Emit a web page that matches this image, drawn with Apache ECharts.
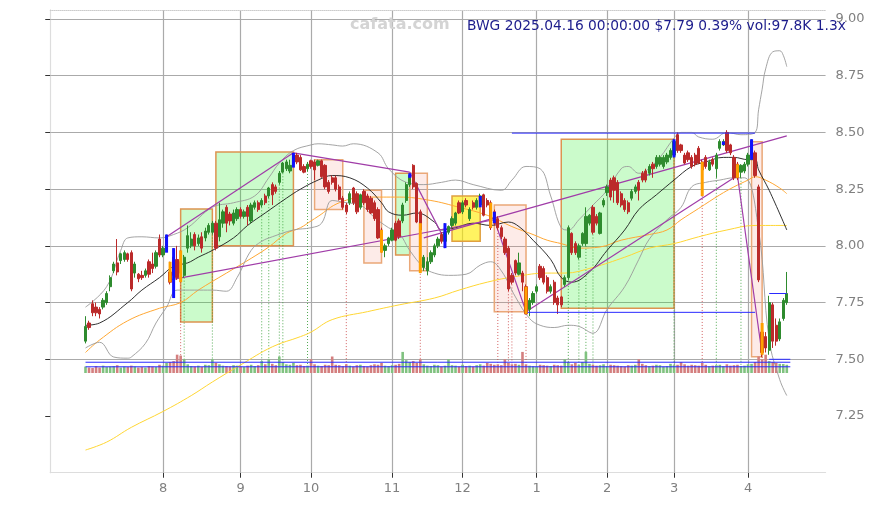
<!DOCTYPE html>
<html><head><meta charset="utf-8">
<script src="https://cdn.jsdelivr.net/npm/echarts@6/dist/echarts.min.js"></script>
<style>html,body{margin:0;padding:0;background:#fff}#c{width:875px;height:505px}</style>
</head><body><div id="c"></div>
<script>
// ---------- data ----------
const startDate = '2024-07-01', endDate = '2025-04-16';
const holidays = ['2024-07-04','2024-09-02','2024-11-28','2024-12-25','2025-01-01','2025-01-09','2025-01-20','2025-02-17'];
const titleText = 'BWG 2025.04.16 00:00:00 $7.79 0.39% vol:97.8K 1.3x';
const watermark = 'cafata.com';
const yTickLabels = [7.25, 7.5, 7.75, 8.0, 8.25, 8.5, 8.75, 9.0];

// [open, close, low, high]
const ohlc = [
[7.58,7.645,7.57,7.69],[7.66,7.64,7.63,7.67],[7.745,7.705,7.69,7.76],[7.73,7.705,7.69,7.75],[7.72,7.70,7.68,7.73],
[7.73,7.76,7.72,7.77],[7.75,7.79,7.74,7.80],[7.82,7.86,7.80,7.87],[7.89,7.92,7.88,7.93],[7.925,7.885,7.87,8.03],
[7.935,7.965,7.92,7.97],[7.94,7.97,7.93,7.98],[7.965,7.94,7.93,7.97],[7.97,7.81,7.80,7.98],[7.88,7.92,7.86,7.93],
[7.875,7.855,7.84,7.88],[7.87,7.86,7.85,7.89],[7.87,7.89,7.86,7.90],[7.93,7.875,7.86,7.94],[7.92,7.90,7.88,7.97],
[7.91,7.97,7.90,7.98],[8.03,7.96,7.95,8.05],[7.96,7.99,7.95,8.00],[7.99,8.04,7.98,8.05],[7.885,7.84,7.83,7.93],
[7.95,7.87,7.77,7.99],[7.94,7.86,7.85,8.00],[7.93,7.88,7.84,7.98],[7.87,7.95,7.86,7.96],[7.99,8.045,7.97,8.09],
[8.00,8.03,7.99,8.06],[8.05,8.00,7.98,8.06],[8.01,8.035,8.00,8.05],[8.04,7.99,7.97,8.06],[8.035,8.065,8.02,8.08],
[8.06,8.09,8.05,8.10],[8.06,8.10,8.05,8.11],[8.10,7.99,7.98,8.11],[8.04,8.115,8.02,8.19],[8.10,8.15,8.08,8.16],
[8.17,8.10,8.06,8.18],[8.14,8.11,8.09,8.15],[8.10,8.145,8.09,8.16],[8.12,8.16,8.11,8.17],[8.16,8.13,8.12,8.17],
[8.13,8.15,8.12,8.16],[8.17,8.13,8.09,8.18],[8.11,8.18,8.10,8.19],[8.17,8.19,8.16,8.20],[8.19,8.16,8.15,8.20],
[8.18,8.20,8.17,8.21],[8.22,8.19,8.18,8.23],[8.22,8.255,8.21,8.26],[8.27,8.225,8.18,8.28],[8.26,8.24,8.23,8.27],
[8.28,8.32,8.27,8.33],[8.325,8.365,8.32,8.37],[8.34,8.37,8.33,8.38],[8.33,8.355,8.32,8.38],[8.36,8.40,8.355,8.41],
[8.40,8.37,8.36,8.41],[8.39,8.335,8.33,8.40],[8.35,8.325,8.32,8.36],[8.34,8.36,8.33,8.37],[8.375,8.35,8.34,8.38],
[8.37,8.335,8.29,8.38],[8.355,8.375,8.35,8.38],[8.375,8.305,8.30,8.38],[8.355,8.26,8.25,8.36],[8.28,8.24,8.23,8.29],
[8.30,8.28,8.27,8.31],[8.30,8.25,8.24,8.31],[8.26,8.205,8.20,8.27],[8.21,8.17,8.16,8.22],[8.18,8.15,8.14,8.19],
[8.19,8.23,8.18,8.24],[8.255,8.19,8.18,8.26],[8.23,8.15,8.14,8.24],[8.17,8.225,8.16,8.23],[8.24,8.19,8.18,8.25],
[8.22,8.16,8.15,8.23],[8.21,8.145,8.14,8.22],[8.19,8.12,8.11,8.20],[8.16,8.035,8.03,8.17],[8.07,7.99,7.97,8.08],
[7.98,8.00,7.95,8.01],[8.01,8.035,8.00,8.04],[8.025,8.07,8.02,8.08],[8.10,8.025,8.02,8.11],[8.11,8.04,8.03,8.12],
[8.11,8.18,8.10,8.19],[8.20,8.27,8.19,8.28],[8.27,8.31,8.26,8.32],[8.355,8.26,8.25,8.36],[8.275,8.105,8.10,8.28],
[8.15,8.07,7.89,8.16],[7.905,7.95,7.89,7.96],[7.89,7.93,7.87,7.95],[7.93,7.97,7.92,7.98],[7.96,8.00,7.95,8.01],
[8.00,8.03,7.99,8.04],[8.05,8.02,8.01,8.06],[8.02,8.06,7.99,8.10],[8.06,8.085,8.05,8.09],[8.09,8.12,8.08,8.13],
[8.10,8.145,8.09,8.15],[8.19,8.145,8.14,8.20],[8.15,8.19,8.14,8.20],[8.20,8.18,8.17,8.21],[8.12,8.16,8.11,8.17],
[8.19,8.17,8.16,8.20],[8.17,8.20,8.16,8.21],[8.18,8.22,8.17,8.23],[8.225,8.135,8.13,8.23],[8.20,8.18,8.17,8.21],
[8.19,8.08,8.07,8.20],[8.15,8.10,8.09,8.16],[8.12,8.08,8.07,8.13],[8.08,8.04,8.03,8.09],[8.03,7.97,7.96,8.04],
[7.99,7.81,7.80,8.00],[7.87,7.84,7.83,7.88],[7.935,7.88,7.87,7.94],[7.875,7.925,7.87,7.97],[7.88,7.84,7.80,7.89],
[7.82,7.70,7.70,7.83],[7.72,7.76,7.69,7.77],[7.75,7.79,7.74,7.80],[7.80,7.82,7.79,7.83],[7.91,7.86,7.85,7.92],
[7.90,7.84,7.83,7.91],[7.86,7.80,7.79,7.87],[7.80,7.82,7.79,7.83],[7.84,7.75,7.74,7.85],[7.77,7.74,7.70,7.78],
[7.775,7.74,7.73,7.78],[7.83,7.86,7.82,7.87],[7.86,8.08,7.85,8.09],[8.055,7.97,7.96,8.06],[8.01,7.97,7.96,8.02],
[7.95,8.00,7.94,8.01],[8.01,8.055,8.00,8.06],[8.01,8.13,8.00,8.17],[8.10,8.135,8.09,8.14],[8.17,8.06,8.05,8.18],
[8.13,8.10,8.09,8.14],[8.055,8.145,8.05,8.15],[8.18,8.20,8.17,8.21],[8.235,8.26,8.22,8.27],[8.29,8.215,8.20,8.30],
[8.30,8.245,8.19,8.31],[8.28,8.19,8.18,8.29],[8.23,8.18,8.17,8.24],[8.20,8.16,8.15,8.21],[8.19,8.15,8.14,8.20],
[8.21,8.24,8.20,8.25],[8.24,8.26,8.23,8.27],[8.28,8.245,8.20,8.29],[8.32,8.29,8.28,8.33],[8.33,8.29,8.28,8.34],
[8.32,8.35,8.31,8.36],[8.36,8.34,8.30,8.37],[8.35,8.39,8.34,8.40],[8.36,8.39,8.35,8.40],[8.35,8.39,8.34,8.40],
[8.37,8.40,8.36,8.41],[8.39,8.42,8.38,8.43],[8.40,8.46,8.39,8.47],[8.49,8.42,8.41,8.50],[8.445,8.42,8.41,8.45],
[8.40,8.365,8.36,8.41],[8.41,8.38,8.37,8.42],[8.39,8.35,8.34,8.40],[8.40,8.36,8.35,8.41],[8.43,8.365,8.36,8.44],
[8.37,8.335,8.22,8.38],[8.39,8.35,8.34,8.40],[8.335,8.37,8.33,8.38],[8.38,8.36,8.35,8.39],[8.34,8.40,8.30,8.41],
[8.43,8.46,8.42,8.47],[8.445,8.46,8.44,8.47],[8.50,8.42,8.41,8.51],[8.445,8.41,8.40,8.45],[8.39,8.30,8.29,8.40],
[8.36,8.30,8.29,8.37],[8.325,8.355,8.30,8.36],[8.33,8.36,8.32,8.37],[8.36,8.40,8.35,8.41],[8.40,8.46,8.38,8.47],
[8.41,8.31,8.30,8.42],[8.26,7.85,7.84,8.27],[7.62,7.53,7.51,7.66],[7.60,7.55,7.53,7.62],[7.54,7.75,7.52,7.78],
[7.74,7.58,7.55,7.75],[7.65,7.58,7.56,7.68],[7.59,7.665,7.58,7.68],[7.68,7.76,7.67,7.77],[7.75,7.79,7.74,7.885]
];

// volume in thousands
const volumeK = [
70,60,55,75,60,80,65,70,75,85, 60,70,65,80,70,60,65,60,75,70,
65,90,80,110,120,130,200,190,150,95, 75,70,80,65,90,85,150,110,95,80,
75,70,85,80,70,65,80,90,75,85, 130,95,150,100,85,180,120,95,90,110,
85,90,75,80,150,95,80,75,90,85, 180,90,85,75,95,80,70,85,90,75,
70,85,95,90,110,80,75,85,90,100, 230,140,120,130,110,150,95,80,75,90,
85,70,80,150,85,80,70,90,75,80, 70,85,95,80,110,100,90,95,85,150,
110,95,100,90,230,95,80,75,70,90, 85,80,75,90,85,80,150,120,95,110,
90,120,230,100,90,80,85,95,75,90, 85,80,75,70,85,80,90,150,100,85,
75,80,90,85,70,75,100,85,90,120, 95,80,90,85,80,110,90,75,80,85,
90,75,95,80,85,90,75,80,95,100, 120,180,150,200,130,120,110,100,97.8,90
];

const ma20 = [[0,7.65],[4,7.66],[12,7.75],[16,7.805],[21,7.86],[25,7.91],[29,7.925],[32,7.95],[36,7.98],[42,8.035],[46,8.09],[51,8.145],[57,8.21],[61,8.25],[66,8.29],[70,8.31],[75,8.30],[80,8.255],[84,8.19],[86,8.15],[90,8.135],[94,8.145],[99,8.105],[101,8.07],[105,8.08],[110,8.10],[115,8.09],[120,8.105],[123,8.085],[127,8.025],[132,7.94],[135,7.86],[138,7.84],[143,7.885],[148,7.98],[153,8.07],[157,8.16],[162,8.225],[167,8.29],[172,8.35],[176,8.37],[181,8.39],[184,8.39],[188,8.38],[190,8.38],[191,8.335],[194,8.245],[199,8.07]];
const bbUpper = [[0,7.73],[6,7.82],[10,7.98],[12,8.035],[16,8.04],[21,8.035],[25,8.05],[29,8.08],[36,8.17],[42,8.19],[48,8.22],[52,8.30],[55,8.365],[59,8.42],[64,8.445],[66,8.45],[70,8.445],[73,8.44],[76,8.45],[83,8.41],[86,8.34],[91,8.28],[96,8.27],[101,8.28],[105,8.29],[110,8.27],[118,8.245],[121,8.29],[125,8.35],[129,8.34],[132,8.22],[135,8.08],[137,8.07],[140,8.115],[144,8.18],[148,8.245],[152,8.34],[154,8.35],[157,8.32],[159,8.33],[163,8.39],[167,8.475],[169,8.50],[172,8.50],[174,8.48],[178,8.47],[182,8.50],[186,8.49],[190,8.50],[191,8.60],[192,8.69],[193,8.78],[195,8.855],[197,8.86],[198,8.84],[199,8.79]];
const bbLower = [[0,7.55],[4,7.575],[8,7.51],[12,7.505],[13,7.51],[17,7.57],[20,7.66],[23,7.73],[26,7.805],[31,7.805],[36,7.805],[40,7.80],[43,7.86],[47,7.98],[50,8.02],[53,8.04],[59,8.07],[64,8.08],[67,8.10],[70,8.20],[74,8.19],[78,8.18],[82,8.125],[86,8.08],[89,8.055],[92,7.98],[96,7.905],[99,7.88],[103,7.87],[108,7.875],[112,7.915],[115,7.93],[118,7.89],[122,7.775],[126,7.68],[129,7.65],[133,7.64],[137,7.65],[140,7.645],[144,7.615],[148,7.72],[153,7.82],[157,7.94],[160,8.03],[165,8.115],[169,8.17],[172,8.26],[176,8.28],[180,8.29],[184,8.30],[187,8.30],[191,8.07],[194,7.585],[197,7.41],[199,7.34]];
const ma50 = [[0,7.53],[4,7.585],[12,7.67],[21,7.725],[27,7.75],[32,7.805],[40,7.88],[47,7.945],[52,7.995],[57,8.055],[61,8.08],[64,8.11],[66,8.13],[72,8.19],[80,8.215],[89,8.215],[98,8.20],[106,8.17],[114,8.135],[121,8.085],[127,8.05],[131,8.025],[135,8.01],[140,7.99],[146,7.995],[152,8.025],[160,8.05],[165,8.07],[169,8.115],[174,8.165],[180,8.225],[184,8.26],[188,8.29],[190,8.305],[193,8.29],[197,8.255],[199,8.23]];
const ma200 = [[0,7.10],[6,7.135],[13,7.20],[22,7.27],[30,7.34],[36,7.40],[44,7.475],[53,7.555],[61,7.60],[64,7.62],[70,7.675],[80,7.71],[89,7.74],[99,7.77],[106,7.805],[114,7.84],[122,7.865],[131,7.88],[136,7.88],[144,7.905],[153,7.95],[160,7.99],[167,8.01],[174,8.04],[182,8.07],[190,8.09],[199,8.09]];

// [fromIndex, toIndex, low, high, kind]
const boxes = [[27,36,7.664,8.162,'g'],[37,59,8.0,8.414,'g'],[65,73,8.16,8.38,'r'],[79,84,7.925,8.245,'r'],[88,92,7.96,8.32,'g'],[92,97,7.89,8.32,'r'],[104,112,8.02,8.22,'y'],[116,125,7.71,8.18,'r'],[135,167,7.725,8.47,'g'],[189,192,7.511,8.459,'r']];
// [index, low, high, kind]
const pivotMarks = [[23,7.97,8.05,'b'],[25,7.77,7.99,'b'],[59,8.345,8.41,'b'],[92,8.30,8.32,'b'],[102,7.99,8.10,'b'],[112,8.17,8.22,'b'],[116,8.10,8.15,'b'],[167,8.39,8.47,'b'],[181,8.445,8.46,'b'],[189,8.38,8.47,'b'],
  [24,7.84,7.93,'o'],[27,7.84,7.98,'o'],[84,7.97,8.07,'o'],[95,7.88,8.10,'o'],[115,8.08,8.19,'o'],[125,7.70,7.82,'o'],[175,8.22,8.37,'o'],[185,8.30,8.36,'o'],[192,7.52,7.66,'o']];
const dottedMarks = [[27,'r'],[74,'r'],[95,'r'],[117,'r'],[120,'r'],[121,'r'],[125,'r'],[175,'r'],[192,'r'],
  [28,'g'],[36,'g'],[50,'g'],[52,'g'],[55,'g'],[56,'g'],[63,'g'],[137,'g'],[140,'g'],[142,'g'],[144,'g'],[167,'g'],[179,'g'],[186,'g']];
const trendLines = [[[23,8.04],[59,8.41]],[[59,8.41],[92,8.325]],[[92,8.325],[102,8.025]],[[24,7.85],[116,8.115]],[[116,8.115],[125,7.71]],[[125,7.71],[185,8.31]],[[185,8.31],[192,7.52]],[[96,8.035],[199,8.485]]];
const levelLines = [[[121,8.497],[190,8.497]],[[125,7.707],[190,7.707]],[[0,7.487],[200,7.487]],[[0,7.467],[200,7.467]],[[194,7.79],[199,7.79]],[[194,7.50],[200,7.50]]];

// ---------- build categories ----------
const PAD = 10, POST = 11;
const dates = [];
(function(){
  let d = new Date(startDate + 'T00:00:00Z');
  const end = new Date(endDate + 'T00:00:00Z');
  while (d <= end) {
    const s = d.toISOString().slice(0,10);
    const wd = d.getUTCDay();
    if (wd !== 0 && wd !== 6 && holidays.indexOf(s) < 0) dates.push(s);
    d = new Date(d.getTime() + 86400000);
  }
})();
const monthStarts = new Set();
for (let i = 1; i < dates.length; i++) if (dates[i].slice(5,7) !== dates[i-1].slice(5,7)) monthStarts.add(dates[i]);
const cats = [];
for (let i = 0; i < PAD; i++) cats.push('p' + i);
dates.forEach(d => cats.push(d));
for (let i = 0; i < POST; i++) cats.push('q' + i);
const X = i => i + PAD;
const isMonth = (idx, val) => monthStarts.has(val);

const UP = '#2e8b2e', DOWN = '#bb2a2a';
const candleData = ohlc.map((d, i) => [X(i), d[0], d[1], d[2], d[3]]);
const volData = volumeK.map((v, i) => ({value: [X(i), v], itemStyle: {color: ohlc[i][1] >= ohlc[i][0] ? '#80c280' : '#d47f7f'}}));
const lineSeries = (data, color, width, smooth, z) => ({type: 'line', xAxisIndex: 0, yAxisIndex: 0, data: data.map(p => [X(p[0]), p[1]]), showSymbol: false, smooth: smooth, lineStyle: {color, width}, silent: true, z});

const boxFill = {g: 'rgba(20,235,20,0.22)', r: 'rgba(240,120,100,0.15)', y: 'rgba(255,235,0,0.62)'};
const boxStroke = {g: '#dd9450', r: '#eaa878', y: '#e0a040'};

const series = [];
series.push({
  type: 'custom', xAxisIndex: 0, yAxisIndex: 0, z: 1, silent: true,
  encode: {x: [0,1], y: [2,3]},
  data: boxes.map(b => [X(b[0]), X(b[1]), b[2], b[3], b[4] === 'g' ? 0 : b[4] === 'r' ? 1 : 2]),
  renderItem: (params, api) => {
    const p0 = api.coord([api.value(0), api.value(3)]);
    const p1 = api.coord([api.value(1), api.value(2)]);
    const k = ['g','r','y'][api.value(4)];
    return {type: 'rect', shape: {x: p0[0], y: p0[1], width: p1[0]-p0[0], height: p1[1]-p0[1]},
      style: {fill: boxFill[k], stroke: boxStroke[k], lineWidth: 1.5}};
  }
});
series.push({
  type: 'custom', xAxisIndex: 0, yAxisIndex: 0, z: 2, silent: true,
  encode: {x: 0, y: [1,2]},
  data: dottedMarks.map(m => [X(m[0]), ohlc[m[0]][2], 7.46, m[1] === 'g' ? 0 : 1]),
  renderItem: (params, api) => {
    const p0 = api.coord([api.value(0), api.value(1)]);
    const p1 = api.coord([api.value(0), api.value(2)]);
    return {type: 'line', shape: {x1: p0[0], y1: p0[1], x2: p1[0], y2: p1[1]},
      style: {stroke: api.value(3) === 0 ? 'rgba(40,150,40,0.8)' : 'rgba(200,60,60,0.8)', lineWidth: 1, lineDash: [1, 2]}};
  }
});
series.push({type: 'bar', xAxisIndex: 1, yAxisIndex: 2, data: volData, barWidth: 2.6, silent: true, z: 2});
series.push(lineSeries(ma200, '#ffd633', 1, 0.4, 3));
series.push(lineSeries(ma50, '#ffa733', 1, 0.4, 3));
series.push(lineSeries(bbUpper, '#9a9a9a', 0.9, 0.4, 3));
series.push(lineSeries(bbLower, '#9a9a9a', 0.9, 0.4, 3));
series.push(lineSeries(ma20, '#1a1a1a', 0.9, 0.4, 3));
trendLines.forEach(t => series.push(lineSeries(t, '#a03ca8', 1.2, false, 4)));
series.push({
  type: 'candlestick', xAxisIndex: 0, yAxisIndex: 0, z: 5, silent: true,
  encode: {x: 0, y: [1,2,3,4]}, data: candleData, barWidth: 2.8,
  itemStyle: {color: UP, color0: DOWN, borderColor: UP, borderColor0: DOWN, borderWidth: 1}
});
levelLines.forEach(t => series.push(lineSeries(t, '#2a2aff', 1, false, 6)));
series.push({
  type: 'custom', xAxisIndex: 0, yAxisIndex: 0, z: 7, silent: true,
  encode: {x: 0, y: [1,2]},
  data: pivotMarks.map(m => [X(m[0]), m[1], m[2], m[3] === 'b' ? 0 : 1]),
  renderItem: (params, api) => {
    const p0 = api.coord([api.value(0), api.value(2)]);
    const p1 = api.coord([api.value(0), api.value(1)]);
    return {type: 'rect', shape: {x: p0[0]-1.5, y: p0[1], width: 3, height: p1[1]-p0[1]},
      style: {fill: api.value(3) === 0 ? '#1010ff' : '#ffa000'}};
  }
});

const splitColors = ['transparent'].concat(yTickLabels.map(() => '#aaaaaa')).concat(['transparent']);
const GL = 50.26, GW = 775.3, GT = 9.93, GH = 462.8;

const option = {
  animation: false,
  textStyle: {fontFamily: 'DejaVu Sans'},
  title: [
    {text: watermark, left: 350, top: 17, padding: 0, textStyle: {color: '#d4d4d4', fontSize: 16, fontWeight: 'bold', fontFamily: 'DejaVu Sans'}},
    {text: titleText, left: 467, top: 19, padding: 0, textStyle: {color: '#1c1c8c', fontSize: 13.8, fontWeight: 'normal', fontFamily: 'DejaVu Sans'}}
  ],
  grid: [
    {left: GL, width: GW, top: GT, height: GH},
    {left: GL, width: GW, top: 351, height: 22}
  ],
  xAxis: [
    {type: 'category', gridIndex: 0, data: cats, boundaryGap: false,
      axisLine: {lineStyle: {color: '#dddddd', width: 1.2}},
      axisTick: {show: true, interval: isMonth, length: 5, lineStyle: {color: '#333'}},
      axisLabel: {interval: isMonth, formatter: v => String(parseInt(v.slice(5,7), 10)), color: '#808080', fontSize: 13, margin: 9},
      splitLine: {show: true, interval: isMonth, lineStyle: {color: '#aaaaaa', width: 1.2}}},
    {type: 'category', gridIndex: 1, data: cats, boundaryGap: false, show: false},
    {type: 'category', gridIndex: 0, data: cats, boundaryGap: false, position: 'top',
      axisLine: {show: true, lineStyle: {color: '#cccccc', type: 'dotted'}}, axisTick: {show: false}, axisLabel: {show: false}, splitLine: {show: false}}
  ],
  yAxis: [
    {type: 'value', gridIndex: 0, position: 'left', min: 7.0, max: 9.04, interval: 0.25,
      axisLine: {show: true, lineStyle: {color: '#dddddd', width: 1.2}},
      axisTick: {show: true, length: 5, lineStyle: {color: '#333'}, customValues: yTickLabels},
      axisLabel: {show: false},
      splitLine: {show: true, lineStyle: {color: splitColors, width: 1.2}}},
    {type: 'value', gridIndex: 0, position: 'right', min: 7.0, max: 9.04, interval: 0.25,
      axisLine: {show: false}, axisTick: {show: false},
      axisLabel: {color: '#808080', fontSize: 13, margin: 10, showMinLabel: false, showMaxLabel: false, formatter: v => v.toFixed(2)},
      splitLine: {show: false}},
    {type: 'value', gridIndex: 1, min: 0, max: 240, show: false, splitLine: {show: false}}
  ],
  series: series
};
const chart = echarts.init(document.getElementById('c'), null, {renderer: 'canvas'});
chart.setOption(option);
</script>
</body></html>
